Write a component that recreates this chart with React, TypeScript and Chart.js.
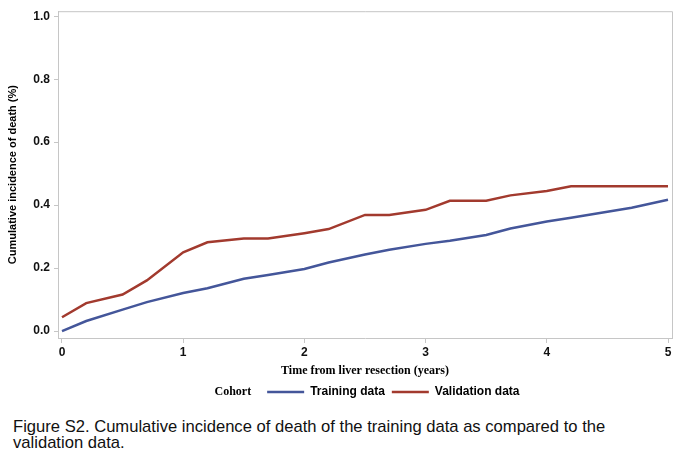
import React, { useEffect, useRef } from "react";
import { Chart, registerables } from "chart.js";

Chart.register(...registerables);

// years after resection
const trainingYears = [0, 0.2, 0.5, 0.7, 1.0, 1.2, 1.5, 1.7, 2.0, 2.2, 2.5, 2.7, 3.0, 3.2, 3.5, 3.7, 4.0, 4.2, 4.7, 5.0];
const trainingIncidence = [0.0, 0.032, 0.068, 0.092, 0.121, 0.136, 0.166, 0.178, 0.197, 0.218, 0.243, 0.258, 0.277, 0.287, 0.305, 0.326, 0.348, 0.36, 0.392, 0.417];

const validationYears = [0, 0.2, 0.5, 0.7, 1.0, 1.2, 1.5, 1.7, 2.0, 2.2, 2.5, 2.7, 3.0, 3.2, 3.5, 3.7, 4.0, 4.2, 5.0];
const validationIncidence = [0.044, 0.089, 0.116, 0.161, 0.25, 0.282, 0.294, 0.294, 0.311, 0.324, 0.369, 0.369, 0.385, 0.414, 0.414, 0.431, 0.445, 0.46, 0.46];

const xTicks = [0, 1, 2, 3, 4, 5];
const yTicks = [0, 0.2, 0.4, 0.6, 0.8, 1.0];

const seriesNames = ["Training data", "Validation data"];
const seriesColors = ["#44569a", "#a23a2e"];

const SANS = "'Liberation Sans', Arial, Helvetica, sans-serif";
const SERIF = "'Liberation Serif', 'Times New Roman', serif";
const FRAME = "#c6c6c6";

const toPoints = (xs: number[], ys: number[]) => xs.map((x, i) => ({ x, y: ys[i] }));

// titles, frame and legend drawn by hand
const decorPlugin = {
  id: "decor",
  afterDraw(chart: any) {
    const { ctx, chartArea } = chart;
    const { left, right, top, bottom } = chartArea;
    ctx.save();

    // top + right frame lines
    ctx.strokeStyle = FRAME;
    ctx.lineWidth = 1;
    ctx.beginPath();
    ctx.moveTo(left, top + 0.5);
    ctx.lineTo(right + 0.5, top + 0.5);
    ctx.lineTo(right + 0.5, bottom);
    ctx.stroke();

    ctx.fillStyle = "#000";
    ctx.textBaseline = "middle";

    // y title
    ctx.save();
    ctx.translate(13, (top + bottom) / 2);
    ctx.rotate(-Math.PI / 2);
    ctx.textAlign = "center";
    ctx.font = `bold 11px ${SANS}`;
    ctx.fillText("Cumulative incidence of death (%)", 0, 0);
    ctx.restore();

    // x title
    const cx = (left + right) / 2;
    ctx.textAlign = "center";
    ctx.font = `bold 12px ${SERIF}`;
    ctx.fillText("Time from liver resection (years)", cx, 371);

    // legend
    const ly = 392;
    ctx.textAlign = "left";
    ctx.font = `bold 12px ${SERIF}`;
    const wTitle = ctx.measureText("Cohort").width;
    ctx.font = `bold 12px ${SANS}`;
    const w1 = ctx.measureText(seriesNames[0]).width;
    const w2 = ctx.measureText(seriesNames[1]).width;
    const lineLen = 37;
    const total = wTitle + 16 + lineLen + 6 + w1 + 7 + lineLen + 6 + w2;
    let x = cx - total / 2 + 2;
    ctx.font = `bold 12px ${SERIF}`;
    ctx.fillText("Cohort", x, ly);
    x += wTitle + 16;
    ctx.font = `bold 12px ${SANS}`;
    [w1, w2].forEach((w, i) => {
      ctx.strokeStyle = seriesColors[i];
      ctx.lineWidth = 2.5;
      ctx.beginPath();
      ctx.moveTo(x, ly);
      ctx.lineTo(x + lineLen, ly);
      ctx.stroke();
      x += lineLen + 6;
      ctx.fillStyle = "#000";
      ctx.fillText(seriesNames[i], x, ly);
      x += w + 7;
    });

    ctx.restore();
  },
};

const IncidenceChart: React.FC = () => {
  const canvasRef = useRef<HTMLCanvasElement | null>(null);

  useEffect(() => {
    const ctx = canvasRef.current?.getContext("2d");
    if (!ctx) return;

    const chart = new Chart(ctx, {
      type: "line",
      data: {
        datasets: [
          {
            label: seriesNames[0],
            data: toPoints(trainingYears, trainingIncidence),
            borderColor: seriesColors[0],
            borderWidth: 2.5,
            pointRadius: 0,
            tension: 0,
          },
          {
            label: seriesNames[1],
            data: toPoints(validationYears, validationIncidence),
            borderColor: seriesColors[1],
            borderWidth: 2.5,
            pointRadius: 0,
            tension: 0,
          },
        ],
      },
      options: {
        animation: false,
        responsive: false,
        devicePixelRatio: 1,
        layout: { padding: { top: 8, right: 9, left: 0, bottom: 0 } },
        plugins: {
          legend: { display: false },
          tooltip: { enabled: false },
        },
        scales: {
          x: {
            type: "linear",
            min: -0.033,
            max: 5.033,
            afterBuildTicks: (s: any) => {
              s.ticks = xTicks.map((v) => ({ value: v }));
            },
            afterFit: (s: any) => {
              s.height = 64;
            },
            grid: {
              drawOnChartArea: false,
              drawTicks: true,
              tickLength: 5,
              color: FRAME,
            },
            border: { color: FRAME },
            ticks: {
              color: "#111",
              font: { family: SANS, size: 12, weight: "bold" },
              padding: 2,
              maxRotation: 0,
              callback: (v: any) => String(v),
            },
          },
          y: {
            type: "linear",
            min: -0.022,
            max: 1.016,
            afterBuildTicks: (s: any) => {
              s.ticks = yTicks.map((v) => ({ value: v }));
            },
            afterFit: (s: any) => {
              s.width = 58;
            },
            grid: {
              drawOnChartArea: false,
              drawTicks: true,
              tickLength: 4,
              color: FRAME,
            },
            border: { color: FRAME },
            ticks: {
              color: "#111",
              font: { family: SANS, size: 12, weight: "bold" },
              padding: 4,
              callback: (v: any) => Number(v).toFixed(1),
            },
          },
        },
      },
      plugins: [decorPlugin],
    } as any);

    return () => {
      chart.destroy();
    };
  }, []);

  return <canvas ref={canvasRef} width={681} height={402} style={{ display: "block" }} />;
};

export default function App() {
  return (
    <div
      style={{
        position: "absolute",
        left: 0,
        top: 0,
        width: 681,
        height: 458,
        background: "#fff",
        overflow: "hidden",
      }}
    >
      <IncidenceChart />
      <div
        style={{
          position: "absolute",
          left: 13,
          top: 419,
          fontFamily: SANS,
          fontSize: 16.6,
          lineHeight: "16px",
          color: "#111",
          whiteSpace: "nowrap",
        }}
      >
        Figure S2. Cumulative incidence of death of the training data as compared to the
        <br />
        validation data.
      </div>
    </div>
  );
}
